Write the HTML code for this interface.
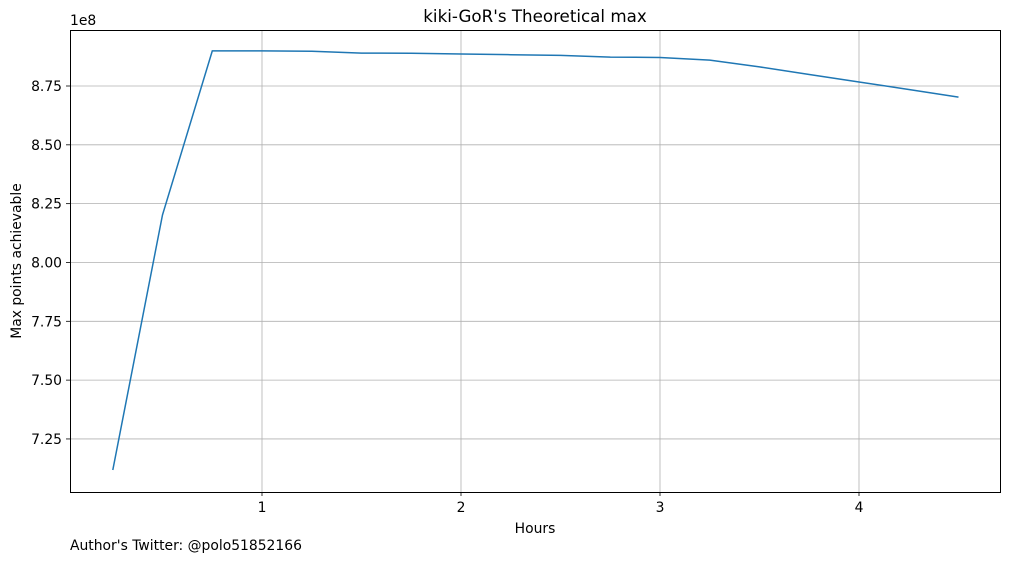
<!DOCTYPE html>
<html><head><meta charset="utf-8">
<style>
body{margin:0;background:#fff;}
svg{display:block;font-family:"DejaVu Sans","Liberation Sans",sans-serif;}
</style></head>
<body>
<svg id="chart" width="1010" height="562" viewBox="0 0 1010 562">
<rect x="0" y="0" width="1010" height="562" fill="#fff"/>
<g id="grid"></g>
<g id="ticks"></g>
<path id="line" fill="none" stroke="#1f77b4" stroke-width="1.5"/>
<rect x="70.5" y="30.5" width="930" height="462" fill="none" stroke="#000" stroke-width="1"/>
<text x="535" y="22" text-anchor="middle" font-size="16.7">kiki-GoR's Theoretical max</text>
<text x="535" y="533" text-anchor="middle" font-size="13.9">Hours</text>
<text transform="translate(21,261) rotate(-90)" text-anchor="middle" font-size="13.9">Max points achievable</text>
<text x="70" y="25" font-size="13.9">1e8</text>
<text x="70" y="550" font-size="13.9">Author's Twitter: @polo51852166</text>
</svg>
<script>
const hours = [0.25,0.5,0.75,1.0,1.25,1.5,1.75,2.0,2.25,2.5,2.75,3.0,3.25,3.5,3.75,4.0,4.25,4.5];
const points = [7.118,8.202,8.899,8.899,8.898,8.890,8.889,8.886,8.883,8.880,8.873,8.871,8.860,8.831,8.799,8.767,8.735,8.703];
const xTicks = [1,2,3,4];
const yTicks = [7.25,7.5,7.75,8.0,8.25,8.5,8.75];
const yTickLabels = ["7.25","7.50","7.75","8.00","8.25","8.50","8.75"];

const NS="http://www.w3.org/2000/svg";
function xs(v){return 63+199*v;}
function ys(v){return 86+(8.75-v)*235.3;}
const grid=document.getElementById('grid'), ticks=document.getElementById('ticks');
function mk(tag,attrs,parent){const e=document.createElementNS(NS,tag);for(const k in attrs)e.setAttribute(k,attrs[k]);parent.appendChild(e);return e;}
xTicks.forEach(t=>{
  const x=xs(t);
  const g=mk('line',{x1:x,x2:x,y1:30,y2:492,stroke:'#b0b0b0','stroke-width':0.8},grid);
  
  
  const tk=mk('line',{x1:x,x2:x,y1:492,y2:496,stroke:'#000','stroke-width':0.8},ticks);
  
  
  const tx=mk('text',{x:x,y:512,'text-anchor':'middle','font-size':13.9},ticks);
  tx.textContent=String(t);
  
  
});
yTicks.forEach((t,i)=>{
  const y=ys(t);
  const g=mk('line',{x1:70,x2:1000,y1:y,y2:y,stroke:'#b0b0b0','stroke-width':0.8},grid);
  
  
  const tk=mk('line',{x1:66,x2:70,y1:y,y2:y,stroke:'#000','stroke-width':0.8},ticks);
  
  
  const tx=mk('text',{x:62,y:y+5,'text-anchor':'end','font-size':13.9},ticks);
  tx.textContent=yTickLabels[i];
  
  
});
document.getElementById('line').setAttribute('d',hours.map((h,i)=>(i?'L':'M')+xs(h).toFixed(1)+','+ys(points[i]).toFixed(1)).join(''));
</script>
</body></html>
